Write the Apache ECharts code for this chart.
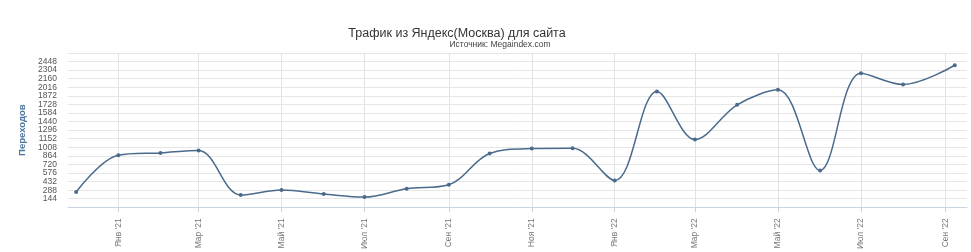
<!DOCTYPE html>
<html>
<head>
<meta charset="utf-8">
<script src="https://cdn.jsdelivr.net/npm/echarts@6/dist/echarts.min.js"></script>
<style>html,body{margin:0;padding:0;background:#fff}#c{width:971px;height:252px}</style>
</head>
<body>
<div id="c"></div>
<script>
// Data
const pointDates = ["2020-12-01","2021-01-01","2021-02-01","2021-03-01","2021-04-01","2021-05-01","2021-06-01","2021-07-01","2021-08-01","2021-09-01","2021-10-01","2021-11-01","2021-12-01","2022-01-01","2022-02-01","2022-03-01","2022-04-01","2022-05-01","2022-06-01","2022-07-01","2022-08-01","2022-09-08"];
const visits = [256, 875, 914, 953, 206, 289, 223, 172, 312, 379, 903, 986, 992, 451, 1945, 1137, 1722, 1973, 619, 2252, 2062, 2386];
const tickDates = ["2021-01-01","2021-03-01","2021-05-01","2021-07-01","2021-09-01","2021-11-01","2022-01-01","2022-03-01","2022-05-01","2022-07-01","2022-09-01"];
const tickLabels = ["Янв '21","Мар '21","Май '21","Июл '21","Сен '21","Ноя '21","Янв '22","Мар '22","Май '22","Июл '22","Сен '22"];
const yTicks = [144,288,432,576,720,864,1008,1152,1296,1440,1584,1728,1872,2016,2160,2304,2448];
const titleText = "Трафик из Яндекс(Москва) для сайта";
const subtitleText = "Источник: Megaindex.com";
const yName = "Переходов";

const ts = d => Date.parse(d + "T00:00:00Z");
const tickTs = tickDates.map(ts);
const seriesData = pointDates.map((d, i) => [ts(d), visits[i]]);

const chart = echarts.init(document.getElementById('c'), null, {renderer: 'canvas'});
chart.setOption({
  animation: false,
  backgroundColor: '#fff',
  title: [
    {text: titleText, left: 452, top: 22, textAlign: 'center',
     textStyle: {fontFamily: 'Liberation Sans, sans-serif', fontSize: 12.5, fontWeight: 'normal', color: '#333'}},
    {text: subtitleText, left: 495, top: 35, textAlign: 'center',
     textStyle: {fontFamily: 'Liberation Sans, sans-serif', fontSize: 8.5, fontWeight: 'normal', color: '#444'}}
  ],
  grid: {left: 68, right: 4, top: 53, bottom: 44, containLabel: false},
  xAxis: {
    type: 'value',
    min: ts("2020-11-25"),
    max: ts("2022-09-17"),
    axisLine: {show: true, lineStyle: {color: '#c8d4e0', width: 1}},
    axisTick: {show: true, length: 5, lineStyle: {color: '#c8d4e0'}, customValues: tickTs},
    splitLine: {show: true, lineStyle: {color: '#e2e2e2', width: 1}},
    axisLabel: {
      customValues: tickTs,
      rotate: 90, margin: 11,
      fontFamily: 'Liberation Sans, sans-serif', fontSize: 8.5, color: '#777',
      formatter: v => { const i = tickTs.indexOf(v); return i >= 0 ? tickLabels[i] : ''; }
    }
  },
  yAxis: {
    type: 'value', min: 0, max: 2592, interval: 144,
    name: yName, nameLocation: 'middle', nameGap: 32, nameRotate: 90,
    nameTextStyle: {fontFamily: 'Liberation Sans, sans-serif', fontSize: 9.5, fontWeight: 'bold', color: '#4d759e'},
    axisLine: {show: false}, axisTick: {show: false},
    splitLine: {show: true, lineStyle: {color: '#e6e6e6', width: 1}},
    axisLabel: {
      showMinLabel: false, showMaxLabel: false, margin: 11,
      fontFamily: 'Liberation Sans, sans-serif', fontSize: 8.5, color: '#555',
      formatter: v => yTicks.indexOf(v) >= 0 ? String(v) : ''
    }
  },
  series: [{
    type: 'line', data: seriesData, smooth: 0.35,
    symbol: 'circle', symbolSize: 4, showSymbol: true,
    lineStyle: {color: '#4a6b8c', width: 1.5},
    itemStyle: {color: '#4a6b8c'}
  }]
});
</script>
</body>
</html>
